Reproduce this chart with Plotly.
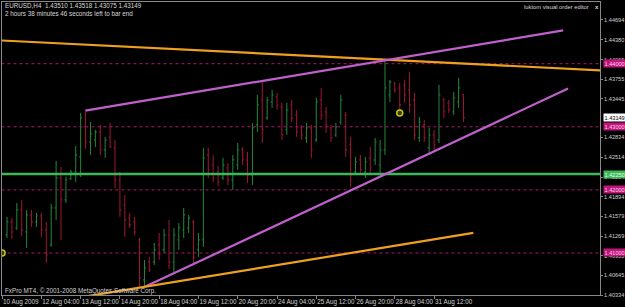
import plotly.graph_objects as go

# ---------------- data ----------------
bar_index = list(range(94))
opens = [1.41286, 1.41492, 1.41397, 1.41683, 1.41334, 1.41603, 1.41492, 1.41587, 1.41366, 1.41128,
         1.41714, 1.42190, 1.41841, 1.42174, 1.42285, 1.42523, 1.42998, 1.42760, 1.42792, 1.42919,
         1.42634, 1.42840, 1.42665, 1.42158, 1.41762, 1.41556, 1.41492, 1.41207, 1.40573, 1.40858,
         1.40858, 1.41128, 1.41049, 1.41286, 1.40858, 1.41207, 1.41366, 1.41397, 1.41492, 1.41049,
         1.41207, 1.42554, 1.42396, 1.42285, 1.42190, 1.42348, 1.42158, 1.42396, 1.42634, 1.42475,
         1.42237, 1.43030, 1.43426, 1.43141, 1.43394, 1.43474, 1.43315, 1.42951, 1.43347, 1.43188,
         1.42982, 1.42824, 1.42982, 1.42792, 1.43426, 1.43236, 1.42982, 1.42871, 1.43077, 1.43188,
         1.42713, 1.42285, 1.42475, 1.42285, 1.42507, 1.42475, 1.42396, 1.42634, 1.43505, 1.43680,
         1.43616, 1.43664, 1.43585, 1.43426, 1.42824, 1.43030, 1.42665, 1.42871, 1.42792, 1.43426,
         1.43378, 1.43236, 1.43394, 1.43510]
highs = [1.41572, 1.41556, 1.41793, 1.41841, 1.41683, 1.41683, 1.41635, 1.41635, 1.41492, 1.41778,
         1.42459, 1.42364, 1.42206, 1.42317, 1.42697, 1.43220, 1.43236, 1.43077, 1.42951, 1.43030,
         1.42840, 1.43061, 1.42792, 1.42285, 1.41920, 1.41635, 1.41572, 1.41239, 1.40890, 1.40938,
         1.41159, 1.41318, 1.41381, 1.41524, 1.41397, 1.41476, 1.41714, 1.41603, 1.41524, 1.41318,
         1.42665, 1.42665, 1.42554, 1.42380, 1.42507, 1.42427, 1.42554, 1.42744, 1.42681, 1.42602,
         1.43061, 1.43505, 1.43743, 1.43474, 1.43585, 1.43537, 1.43378, 1.43378, 1.43426, 1.43268,
         1.43030, 1.43061, 1.43030, 1.43458, 1.43616, 1.43315, 1.43030, 1.43061, 1.43505, 1.43236,
         1.42840, 1.42523, 1.42554, 1.42523, 1.42681, 1.42824, 1.42792, 1.44060, 1.43743, 1.43711,
         1.43695, 1.43743, 1.43870, 1.43537, 1.43157, 1.43109, 1.42982, 1.42951, 1.43664, 1.43458,
         1.43426, 1.43553, 1.43775, 1.43518]
lows = [1.41239, 1.41223, 1.41366, 1.41270, 1.41080, 1.41413, 1.41413, 1.41254, 1.40842, 1.41096,
        1.41524, 1.41207, 1.41793, 1.42158, 1.42126, 1.42206, 1.42649, 1.42554, 1.42681, 1.42554,
        1.42507, 1.42665, 1.42031, 1.41572, 1.41254, 1.41397, 1.41286, 1.40462, 1.40462, 1.40700,
        1.40811, 1.40890, 1.41001, 1.40747, 1.40684, 1.41049, 1.41239, 1.41318, 1.40811, 1.40938,
        1.41096, 1.42190, 1.42126, 1.42063, 1.42158, 1.42079, 1.42000, 1.42317, 1.42396, 1.42110,
        1.42079, 1.42919, 1.42744, 1.43109, 1.43299, 1.43268, 1.42792, 1.42871, 1.43077, 1.42840,
        1.42792, 1.42744, 1.42507, 1.42760, 1.43109, 1.42903, 1.42760, 1.42840, 1.43030, 1.42523,
        1.42047, 1.42237, 1.42237, 1.42190, 1.42269, 1.42396, 1.42237, 1.42554, 1.43394, 1.43537,
        1.43236, 1.43378, 1.43220, 1.42792, 1.42760, 1.42760, 1.42554, 1.42634, 1.42744, 1.43141,
        1.43220, 1.43188, 1.43299, 1.43075]
closes = [1.41492, 1.41334, 1.41683, 1.41366, 1.41603, 1.41492, 1.41587, 1.41366, 1.40969, 1.41714,
          1.42190, 1.41841, 1.42158, 1.42285, 1.42554, 1.43141, 1.42760, 1.42887, 1.42919, 1.42634,
          1.42792, 1.42681, 1.42158, 1.41683, 1.41524, 1.41445, 1.41334, 1.40605, 1.40763, 1.40732,
          1.41049, 1.40969, 1.41286, 1.40858, 1.41286, 1.41397, 1.41603, 1.41556, 1.40922, 1.41207,
          1.42507, 1.42317, 1.42190, 1.42126, 1.42396, 1.42158, 1.42475, 1.42634, 1.42475, 1.42237,
          1.42982, 1.43347, 1.42951, 1.43426, 1.43505, 1.43347, 1.42871, 1.43268, 1.43141, 1.42919,
          1.42871, 1.42982, 1.42634, 1.43394, 1.43188, 1.43030, 1.42824, 1.42998, 1.43426, 1.42634,
          1.42237, 1.42443, 1.42317, 1.42443, 1.42348, 1.42760, 1.42634, 1.43616, 1.43711, 1.43585,
          1.43347, 1.43505, 1.43347, 1.42871, 1.43077, 1.42824, 1.42871, 1.42713, 1.43505, 1.43236,
          1.43268, 1.43458, 1.43616, 1.43149]

time_tick_index = [-1, 7, 15, 23, 31, 39, 47, 55, 63, 71, 79, 87]
time_tick_labels = ["10 Aug 2009", "12 Aug 04:00", "13 Aug 12:00", "14 Aug 20:00", "18 Aug 04:00",
                    "19 Aug 12:00", "20 Aug 20:00", "24 Aug 04:00", "25 Aug 12:00", "26 Aug 20:00",
                    "28 Aug 04:00", "31 Aug 12:00"]
price_ticks = [1.44694, 1.44380, 1.44065, 1.43755, 1.43445, 1.42834, 1.42514, 1.42204,
               1.41894, 1.41579, 1.41269, 1.40955, 1.40645, 1.40334]

level_prices = [1.44000, 1.43000, 1.42000, 1.41000]
green_level = 1.42250
current_price = 1.43149

# trend lines: (x0, y0, x1, y1) in bar index / price
trend_x0 = [-1.4, 15.95, 28.2, 14.9]
trend_y0 = [1.44369, 1.43256, 1.40467, 1.40297]
trend_x1 = [121.0, 113.3, 114.3, 95.0]
trend_y1 = [1.43894, 1.44528, 1.43608, 1.41318]
trend_colors = ["#f0a020", "#c060cc", "#c060cc", "#f0a020"]

marker_x = [80, -1]
marker_y = [1.43220, 1.41000]

header_line1 = "EURUSD,H4  1.43510 1.43518 1.43075 1.43149"
header_line2 = "2 hours 38 minutes 46 seconds left to bar end"
editor_text = "luktom visual order editor"
footer_text = "FxPro MT4, \u00a9 2001-2008 MetaQuotes Software Corp."

# ---------------- figure ----------------
FONT = "Liberation Sans"
AX_FONT = 5.6
X_RANGE = [-1.02, 120.8]
Y_RANGE = [1.40334, 1.44978]

fig = go.Figure()

# dotted horizontal price levels
for lp in level_prices:
    fig.add_trace(go.Scatter(x=[X_RANGE[0] - 5, X_RANGE[1] + 5], y=[lp, lp], mode="lines",
                             line=dict(color="#a8186a", width=1, dash="dot"),
                             hoverinfo="skip", showlegend=False))

# green solid level
fig.add_trace(go.Scatter(x=[X_RANGE[0] - 5, X_RANGE[1] + 5], y=[green_level, green_level],
                         mode="lines", line=dict(color="#3cb85a", width=2.5),
                         hoverinfo="skip", showlegend=False))

# OHLC bars
fig.add_trace(go.Ohlc(x=bar_index, open=opens, high=highs, low=lows, close=closes,
                      increasing=dict(line=dict(color="#23883c", width=1)),
                      decreasing=dict(line=dict(color="#a01535", width=1)),
                      tickwidth=0.3, hoverinfo="skip", showlegend=False))

# trend lines
for x0, y0, x1, y1, c in zip(trend_x0, trend_y0, trend_x1, trend_y1, trend_colors):
    fig.add_trace(go.Scatter(x=[x0, x1], y=[y0, y1], mode="lines",
                             line=dict(color=c, width=2.2),
                             hoverinfo="skip", showlegend=False))

# order markers
fig.add_trace(go.Scatter(x=marker_x, y=marker_y, mode="markers",
                         marker=dict(symbol="circle", size=6, color="#3a3a00",
                                     line=dict(color="#c8c800", width=1.5)),
                         hoverinfo="skip", showlegend=False))

L, R, T, B = 2, 25, 2, 12
W, H = 625, 307
pw, ph = W - L - R, H - T - B


def px(x):
    return (x - L) / pw


def py(y):
    return (H - B - y) / ph


def yprice(p):
    return (p - Y_RANGE[0]) / (Y_RANGE[1] - Y_RANGE[0])


annotations = []
# header texts
annotations.append(dict(x=px(3), y=py(6), xref="paper", yref="paper", text=header_line1,
                        showarrow=False, xanchor="left", yanchor="middle",
                        font=dict(family=FONT, size=6.3, color="#d8d8d8")))
annotations.append(dict(x=px(3), y=py(13), xref="paper", yref="paper", text=header_line2,
                        showarrow=False, xanchor="left", yanchor="middle",
                        font=dict(family=FONT, size=6.3, color="#d8d8d8")))
annotations.append(dict(x=px(591), y=py(7), xref="paper", yref="paper", text=editor_text,
                        showarrow=False, xanchor="right", yanchor="middle",
                        font=dict(family=FONT, size=5.8, color="#d8d8d8")))
annotations.append(dict(x=px(597), y=py(7), xref="paper", yref="paper", text="<b>x</b>",
                        showarrow=False, xanchor="center", yanchor="middle",
                        font=dict(family=FONT, size=6, color="#d8d8d8")))
annotations.append(dict(x=px(3), y=py(291), xref="paper", yref="paper", text=footer_text,
                        showarrow=False, xanchor="left", yanchor="middle",
                        font=dict(family=FONT, size=6.3, color="#d0d0d0")))

# price labels on the right axis
for lp in level_prices:
    annotations.append(dict(x=px(603), y=yprice(lp), xref="paper", yref="paper",
                            text="%.5f" % lp, showarrow=False, xanchor="left", yanchor="middle",
                            bgcolor="#c0157a", borderpad=0.5,
                            font=dict(family=FONT, size=AX_FONT, color="#ffd0ea")))
annotations.append(dict(x=px(603), y=yprice(green_level), xref="paper", yref="paper",
                        text="%.5f" % green_level, showarrow=False, xanchor="left", yanchor="middle",
                        bgcolor="#3cb85a", borderpad=0.5,
                        font=dict(family=FONT, size=AX_FONT, color="#e8ffe8")))
annotations.append(dict(x=px(603), y=yprice(current_price), xref="paper", yref="paper",
                        text="%.5f" % current_price, showarrow=False, xanchor="left", yanchor="middle",
                        bgcolor="#ffffff", borderpad=0.5,
                        font=dict(family=FONT, size=AX_FONT, color="#000000")))

fig.update_layout(
    width=W, height=H, autosize=False,
    margin=dict(l=L, r=R, t=T, b=B, pad=0),
    paper_bgcolor="#000000", plot_bgcolor="#000000",
    showlegend=False,
    annotations=annotations,
    xaxis=dict(range=X_RANGE, showgrid=False, zeroline=False, automargin=False,
               showline=True, mirror=True, linecolor="#8a8a8a", linewidth=1,
               ticks="outside", ticklen=3, tickcolor="#8a8a8a",
               tickmode="array", tickvals=time_tick_index, ticktext=time_tick_labels,
               ticklabelposition="outside right", tickangle=0,
               tickfont=dict(family=FONT, size=6.3, color="#d0d0d0"),
               rangeslider=dict(visible=False)),
    yaxis=dict(range=Y_RANGE, side="right", showgrid=False, zeroline=False, automargin=False,
               showline=True, mirror=True, linecolor="#8a8a8a", linewidth=1,
               ticks="outside", ticklen=2, tickcolor="#8a8a8a",
               tickmode="array", tickvals=price_ticks,
               ticktext=["%.5f" % t for t in price_ticks],
               tickfont=dict(family=FONT, size=AX_FONT, color="#d0d0d0")),
)

fig.write_html("out.html")
